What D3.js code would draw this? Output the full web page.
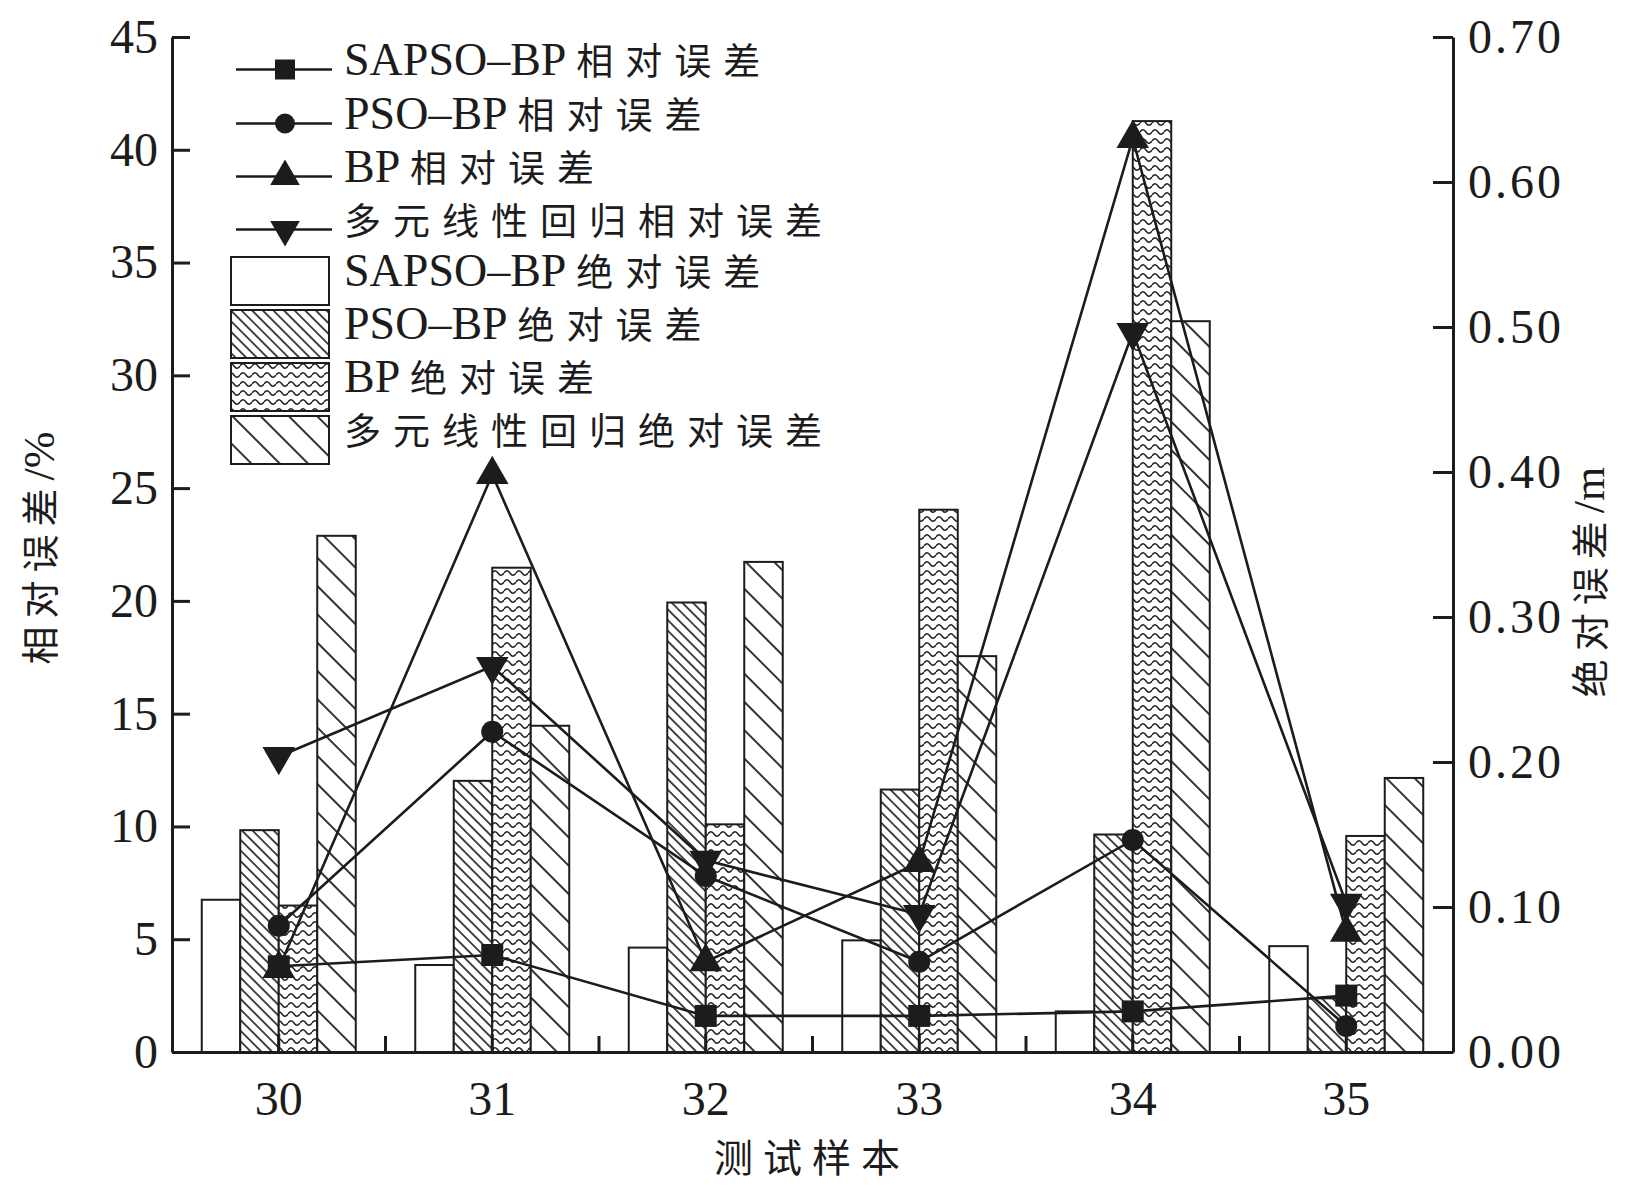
<!DOCTYPE html>
<html>
<head>
<meta charset="utf-8">
<script src="https://cdn.jsdelivr.net/npm/d3@7"></script>
<style>
  body { margin: 0; background: #fff; }
  svg { display: block; }
</style>
</head>
<body>
<svg id="chart" width="1627" height="1192"></svg>
<script>
// Test samples on the x axis
const samples = ["30", "31", "32", "33", "34", "35"];

// Relative error (%) — left axis, drawn as lines with markers
const relSAPSO = [3.8, 4.3, 1.6, 1.6, 1.8, 2.5];
const relPSO   = [5.6, 14.2, 7.8, 4.0, 9.4, 1.15];
const relBP    = [3.7, 25.6, 4.0, 8.4, 40.5, 5.3];
const relMLR   = [13.1, 17.1, 8.5, 6.1, 31.9, 6.6];

// Absolute error (m) — right axis, drawn as patterned bars
const absSAPSO = [0.105, 0.060, 0.072, 0.077, 0.028, 0.073];
const absPSO   = [0.153, 0.187, 0.310, 0.181, 0.150, 0.037];
const absBP    = [0.101, 0.334, 0.157, 0.374, 0.642, 0.149];
const absMLR   = [0.356, 0.225, 0.338, 0.273, 0.504, 0.189];

// Tick labels
const leftTicks  = [0, 5, 10, 15, 20, 25, 30, 35, 40, 45];
const rightTicks = [0.00, 0.10, 0.20, 0.30, 0.40, 0.50, 0.60, 0.70];

// Series names
const lineNames = ["SAPSO–BP 相对误差", "PSO–BP 相对误差", "BP 相对误差", "多元线性回归相对误差"];
const barNames  = ["SAPSO–BP 绝对误差", "PSO–BP 绝对误差", "BP 绝对误差", "多元线性回归绝对误差"];
const xTitle = "测试样本";
const yLeftTitle = "相对误差/%";
const yRightTitle = "绝对误差/m";

const lineSeries = [relSAPSO, relPSO, relBP, relMLR];
const barSeries  = [absSAPSO, absPSO, absBP, absMLR];
const markerTypes = ["square", "circle", "up", "down"];
const barFills = ["#fff", "url(#hatchDense)", "url(#waves)", "url(#hatchSparse)"];

const ink = "#1c1c1c";
const latinFont = "'Liberation Serif', 'Times New Roman', serif";
const cjkFont = "'Noto Sans CJK SC', sans-serif";

const svg = d3.select("#chart");
const plot = { left: 172, right: 1453, top: 37, bottom: 1052 };

// ---------- patterns ----------
const defs = svg.append("defs");
function hatch(id, gap, width) {
  const p = defs.append("pattern")
    .attr("id", id)
    .attr("patternUnits", "userSpaceOnUse")
    .attr("width", gap).attr("height", gap)
    .attr("patternTransform", "rotate(-45)");
  p.append("rect").attr("width", gap).attr("height", gap).attr("fill", "#fff");
  p.append("line")
    .attr("x1", gap / 2).attr("x2", gap / 2)
    .attr("y1", 0).attr("y2", gap)
    .attr("stroke", ink).attr("stroke-width", width);
}
hatch("hatchDense", 7.5, 1.6);
hatch("hatchSparse", 20, 1.8);

const wv = defs.append("pattern")
  .attr("id", "waves")
  .attr("patternUnits", "userSpaceOnUse")
  .attr("width", 12).attr("height", 9);
wv.append("rect").attr("width", 12).attr("height", 9).attr("fill", "#fff");
wv.append("path")
  .attr("d", "M0,6 Q3,1.5 6,6 T12,6")
  .attr("fill", "none")
  .attr("stroke", ink)
  .attr("stroke-width", 1.4);

// ---------- scales ----------
const x = d3.scaleBand()
  .domain(samples)
  .range([plot.left, plot.right])
  .paddingInner(0.2787)
  .paddingOuter(0.2787 / 2);

const xSub = d3.scaleBand()
  .domain(d3.range(barSeries.length))
  .range([0, x.bandwidth()])
  .padding(0);

const yLeft = d3.scaleLinear().domain([0, 45]).range([plot.bottom, plot.top]);
const yRight = d3.scaleLinear().domain([0, 0.70]).range([plot.bottom, plot.top]);

const cx = s => x(s) + x.bandwidth() / 2;

// ---------- mixed Latin / CJK text ----------
function richText(sel, str, latinSize, cjkSize, cjkSpacing) {
  const parts = str.match(/[\u3000-\u9fff]+|[^\u3000-\u9fff]+/g);
  parts.forEach(part => {
    const isCjk = /[\u3000-\u9fff]/.test(part);
    sel.append("tspan")
      .attr("font-family", isCjk ? cjkFont : latinFont)
      .attr("font-size", isCjk ? cjkSize : latinSize)
      .attr("letter-spacing", isCjk ? cjkSpacing : 0)
      .text(part);
  });
}

// ---------- bars ----------
const barG = svg.append("g");
barSeries.forEach((vals, i) => {
  barG.selectAll(null)
    .data(vals.map((v, j) => ({ s: samples[j], v })))
    .join("rect")
    .attr("x", d => x(d.s) + xSub(i))
    .attr("width", xSub.bandwidth())
    .attr("y", d => yRight(d.v))
    .attr("height", d => yRight(0) - yRight(d.v))
    .attr("fill", barFills[i])
    .attr("stroke", ink)
    .attr("stroke-width", 2);
});

// ---------- axes ----------
function styleAxis(g) {
  g.select(".domain").attr("stroke", ink).attr("stroke-width", 3);
  g.selectAll(".tick line").attr("stroke", ink).attr("stroke-width", 3);
  g.selectAll(".tick text")
    .attr("fill", ink)
    .attr("font-family", latinFont)
    .attr("font-size", 48);
}

const axL = svg.append("g")
  .attr("transform", `translate(${plot.left},0)`)
  .call(d3.axisLeft(yLeft).tickValues(leftTicks).tickSize(-18).tickSizeOuter(0).tickPadding(14));
styleAxis(axL);

const axR = svg.append("g")
  .attr("transform", `translate(${plot.right},0)`)
  .call(d3.axisRight(yRight).tickValues(rightTicks).tickFormat(d3.format(".2f"))
    .tickSize(-20).tickSizeOuter(0).tickPadding(15));
styleAxis(axR);
axR.selectAll(".tick text").attr("letter-spacing", 3);

const axB = svg.append("g")
  .attr("transform", `translate(0,${plot.bottom})`)
  .call(d3.axisBottom(x).tickSize(-18).tickSizeOuter(0).tickPadding(29));
styleAxis(axB);

// minor ticks halfway between samples
svg.append("g").selectAll("line")
  .data(samples.slice(1))
  .join("line")
  .attr("x1", s => x(s) - x.step() * x.paddingInner() / 2)
  .attr("x2", s => x(s) - x.step() * x.paddingInner() / 2)
  .attr("y1", plot.bottom).attr("y2", plot.bottom - 16)
  .attr("stroke", ink).attr("stroke-width", 3);

// ---------- lines + markers ----------
function marker(type, size) {
  if (type === "square") return d3.symbol(d3.symbolSquare, size * size)();
  if (type === "circle") return d3.symbol(d3.symbolCircle, Math.PI * (size / 2) * (size / 2))();
  return d3.symbol(d3.symbolTriangle, size * size * 0.95)();
}
function markerTransform(type, px, py) {
  return type === "down" ? `translate(${px},${py}) rotate(180)` : `translate(${px},${py})`;
}

const lineGen = d3.line().x(d => cx(d.s)).y(d => yLeft(d.v));
const lineG = svg.append("g");
lineSeries.forEach((vals, i) => {
  const pts = vals.map((v, j) => ({ s: samples[j], v }));
  lineG.append("path")
    .datum(pts)
    .attr("d", lineGen)
    .attr("fill", "none")
    .attr("stroke", ink)
    .attr("stroke-width", 2.6);
  lineG.selectAll(null)
    .data(pts)
    .join("path")
    .attr("d", marker(markerTypes[i], 22))
    .attr("transform", d => markerTransform(markerTypes[i], cx(d.s), yLeft(d.v)))
    .attr("fill", ink);
});

// ---------- legend ----------
const leg = svg.append("g");
const lineRows = [69.5, 123.5, 176.5, 229.5];
const boxRows = [281, 334, 387, 440];
const textX = 344;

lineNames.forEach((name, i) => {
  const y = lineRows[i];
  leg.append("line")
    .attr("x1", 236).attr("x2", 332).attr("y1", y).attr("y2", y)
    .attr("stroke", ink).attr("stroke-width", 2.6);
  leg.append("path")
    .attr("d", marker(markerTypes[i], 20))
    .attr("transform", markerTransform(markerTypes[i], 285, y))
    .attr("fill", ink);
  const t = leg.append("text").attr("x", textX).attr("y", y).attr("dy", "0.34em").attr("fill", ink);
  richText(t, name, 46, 37, 12);
});

barNames.forEach((name, i) => {
  const y = boxRows[i];
  leg.append("rect")
    .attr("x", 231).attr("y", y - 24).attr("width", 98).attr("height", 48)
    .attr("fill", barFills[i]).attr("stroke", ink).attr("stroke-width", 2);
  const t = leg.append("text").attr("x", textX).attr("y", y).attr("dy", "0.34em").attr("fill", ink);
  richText(t, name, 46, 37, 12);
});

// ---------- axis titles ----------
const tX = svg.append("text")
  .attr("x", 812).attr("y", 1166).attr("dy", "0.35em")
  .attr("text-anchor", "middle").attr("fill", ink);
richText(tX, xTitle, 46, 39, 10);

const tL = svg.append("text")
  .attr("transform", "translate(48,548) rotate(-90)")
  .attr("dy", "0.35em").attr("text-anchor", "middle").attr("fill", ink);
richText(tL, yLeftTitle, 44, 38, 8);

const tR = svg.append("text")
  .attr("transform", "translate(1598,582) rotate(-90)")
  .attr("dy", "0.35em").attr("text-anchor", "middle").attr("fill", ink);
richText(tR, yRightTitle, 44, 38, 8);
</script>
</body>
</html>
